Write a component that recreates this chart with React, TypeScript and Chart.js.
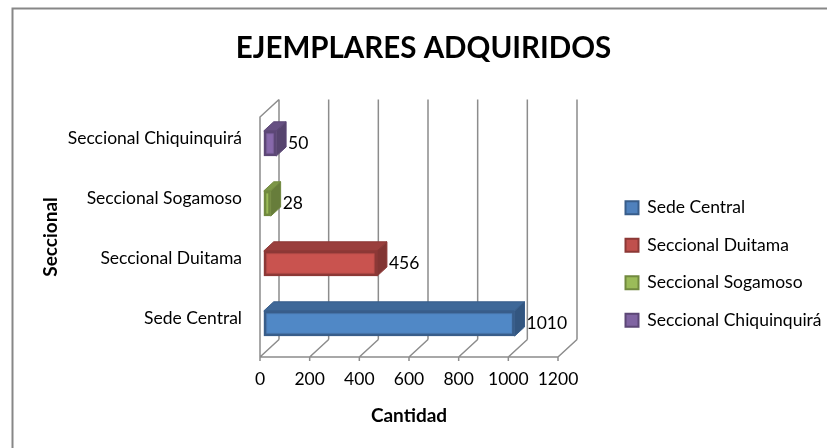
import React, { useEffect, useRef } from 'react';
import { Chart, registerables } from 'chart.js';

Chart.register(...registerables);

// ---- data ----
const categories = ['Sede Central', 'Seccional Duitama', 'Seccional Sogamoso', 'Seccional Chiquinquirá'];
const cantidades = [1010, 456, 28, 50];
const xTickValues = [0, 200, 400, 600, 800, 1000, 1200];
const chartTitle = 'EJEMPLARES ADQUIRIDOS';
const xAxisTitle = 'Cantidad';
const yAxisTitle = 'Seccional';

// ---- styles ----
const frontColors = ['#4F81BD', '#C0504D', '#9BBB59', '#8064A2'];
const innerColors = ['#5088C6', '#C9534F', '#A3C55E', '#8769AB'];
const topColors = ['#3F6898', '#9A3F3D', '#7C9647', '#665082'];
const sideColors = ['#335680', '#823533', '#677D3B', '#56446E'];
const edgeColors = ['#385D8A', '#8C3836', '#71893F', '#5C4776'];

const FONT = 'Lato';
const TICK_SIZE = 17.5;
const GRID = '#8C8C8C';
const DX = 19;
const DY = -17.5;
const F0 = 0.2;
const F1 = 0.72;

const threeDPlugin = {
  id: 'threeD',
  beforeDraw(chart: any) {
    const ctx = chart.ctx;
    ctx.save();
    ctx.strokeStyle = '#878787';
    ctx.lineWidth = 2;
    ctx.beginPath();
    ctx.moveTo(12.5, 448);
    ctx.lineTo(12.5, 8.5);
    ctx.lineTo(827, 8.5);
    ctx.stroke();
    ctx.restore();
  },
  beforeDatasetsDraw(chart: any) {
    const ctx = chart.ctx;
    const { left, right, top, bottom } = chart.chartArea;
    const xs = chart.scales.x;
    ctx.save();
    ctx.strokeStyle = GRID;
    ctx.lineWidth = 1.5;
    ctx.beginPath();
    xTickValues.forEach((v) => {
      const px = xs.getPixelForValue(v);
      ctx.moveTo(px + DX, bottom + DY);
      ctx.lineTo(px + DX, top + DY);
      ctx.moveTo(px, bottom);
      ctx.lineTo(px + DX, bottom + DY);
      ctx.moveTo(px, bottom);
      ctx.lineTo(px, bottom + 4);
    });
    ctx.moveTo(left, bottom);
    ctx.lineTo(right, bottom);
    ctx.moveTo(left, bottom);
    ctx.lineTo(left, top);
    ctx.lineTo(left + DX, top + DY);
    ctx.stroke();
    ctx.restore();
  },
  beforeDatasetDraw() {
    return false;
  },
  afterDatasetsDraw(chart: any) {
    const ctx = chart.ctx;
    const meta = chart.getDatasetMeta(0);
    ctx.save();
    meta.data.forEach((el: any, i: number) => {
      const { x, y, base, height } = el.getProps(['x', 'y', 'base', 'height'], true);
      const l = Math.min(base, x);
      const r = Math.max(base, x);
      const t = y - height / 2;
      const b = y + height / 2;
      const fx = F0 * DX, fy = F0 * DY, bx = F1 * DX, by = F1 * DY;
      ctx.lineJoin = 'round';
      // top face
      ctx.beginPath();
      ctx.moveTo(l + fx, t + fy);
      ctx.lineTo(r + fx, t + fy);
      ctx.lineTo(r + bx, t + by);
      ctx.lineTo(l + bx, t + by);
      ctx.closePath();
      ctx.fillStyle = topColors[i];
      ctx.fill();
      ctx.strokeStyle = edgeColors[i];
      ctx.lineWidth = 1;
      ctx.stroke();
      // right side
      ctx.beginPath();
      ctx.moveTo(r + fx, t + fy);
      ctx.lineTo(r + bx, t + by);
      ctx.lineTo(r + bx, b + by);
      ctx.lineTo(r + fx, b + fy);
      ctx.closePath();
      ctx.fillStyle = sideColors[i];
      ctx.fill();
      ctx.stroke();
      // front face
      ctx.fillStyle = edgeColors[i];
      ctx.fillRect(l + fx, t + fy, r - l, b - t);
      const inset = 2.5;
      if (r - l > 2 * inset) {
        ctx.fillStyle = frontColors[i];
        ctx.fillRect(l + fx + inset, t + fy + inset, r - l - 2 * inset, b - t - 2 * inset);
        if (r - l > 4 * inset) {
          ctx.fillStyle = innerColors[i];
          ctx.fillRect(l + fx + inset + 1, t + fy + inset + 1, r - l - 2 * inset - 2, b - t - 2 * inset - 2);
        }
      }
    });
    // data labels
    ctx.fillStyle = '#000';
    ctx.font = `${TICK_SIZE}px ${FONT}`;
    ctx.textAlign = 'left';
    ctx.textBaseline = 'middle';
    meta.data.forEach((el: any, i: number) => {
      const { x, y } = el.getProps(['x', 'y'], true);
      ctx.fillText(String(cantidades[i]), x + F1 * DX + 2, y + F0 * DY);
    });
    ctx.restore();
  },
};

export default function App() {
  const canvasRef = useRef<HTMLCanvasElement | null>(null);

  useEffect(() => {
    const canvas = canvasRef.current;
    if (!canvas) return;
    Chart.defaults.font.family = FONT;
    const chart = new Chart(canvas, {
      type: 'bar',
      data: {
        labels: categories,
        datasets: [
          {
            label: 'Cantidad',
            data: cantidades,
            backgroundColor: frontColors,
            borderColor: edgeColors,
            categoryPercentage: 1,
            barPercentage: 0.42,
          },
        ],
      },
      options: {
        indexAxis: 'y',
        responsive: false,
        animation: false,
        devicePixelRatio: 1,
        layout: { padding: { left: 20, right: 0, top: 0, bottom: 0 } },
        scales: {
          x: {
            type: 'linear',
            position: 'bottom',
            min: 0,
            max: 1200,
            afterBuildTicks: (s: any) => {
              s.ticks = xTickValues.map((v) => ({ value: v }));
            },
            afterFit: (s: any) => {
              s.height = 91;
            },
            grid: { display: false, drawTicks: false },
            border: { display: false },
            ticks: {
              color: '#000',
              font: { size: TICK_SIZE, family: FONT },
              padding: 12,
              maxRotation: 0,
              autoSkip: false,
              callback: (v: any) => String(v),
            },
            title: {
              display: true,
              text: xAxisTitle,
              color: '#000',
              font: { size: 19, weight: 'bold', family: FONT },
              padding: { top: 0, bottom: 21 },
            },
          },
          y: {
            type: 'category',
            position: 'left',
            reverse: true,
            afterFit: (s: any) => {
              s.width = 240;
            },
            grid: { display: false, drawTicks: false },
            border: { display: false },
            ticks: { color: '#000', font: { size: TICK_SIZE, family: FONT }, padding: 18, labelOffset: -9 },
            title: {
              display: true,
              text: yAxisTitle,
              color: '#000',
              font: { size: 19, weight: 'bold', family: FONT },
              padding: { top: 19, bottom: 0 },
            },
          },
          spacer: {
            type: 'linear',
            axis: 'y',
            position: 'right',
            display: true,
            afterFit: (s: any) => {
              s.width = 47.5;
            },
            grid: { display: false, drawTicks: false },
            border: { display: false },
            ticks: { display: false },
          },
        },
        plugins: {
          title: {
            display: true,
            text: chartTitle,
            color: '#000',
            font: { size: 29.5, weight: 'bold', family: FONT },
            padding: { top: 30.3, bottom: 51.3 },
          },
          legend: {
            display: true,
            position: 'right',
            align: 'start',
            fullSize: false,
            maxWidth: 221.5,
            title: { display: true, text: ' ', font: { size: 12 }, padding: { top: 24, bottom: 23.6 } },
            labels: {
              boxWidth: 13,
              boxHeight: 13,
              padding: 20,
              color: '#000',
              font: { size: TICK_SIZE, family: FONT },
              generateLabels: () =>
                categories.map((c, i) => ({
                  text: c,
                  fillStyle: frontColors[i],
                  strokeStyle: edgeColors[i],
                  lineWidth: 2,
                  hidden: false,
                  index: i,
                  datasetIndex: 0,
                  fontColor: '#000',
                })),
            },
            onClick: () => {},
          },
          tooltip: { enabled: false },
        },
      },
      plugins: [threeDPlugin],
    } as any);
    return () => chart.destroy();
  }, []);

  return (
    <div style={{ position: 'fixed', left: 0, top: 0, width: 827, height: 448, background: '#fff' }}>
      <canvas ref={canvasRef} width={827} height={448} style={{ display: 'block' }} />
    </div>
  );
}
